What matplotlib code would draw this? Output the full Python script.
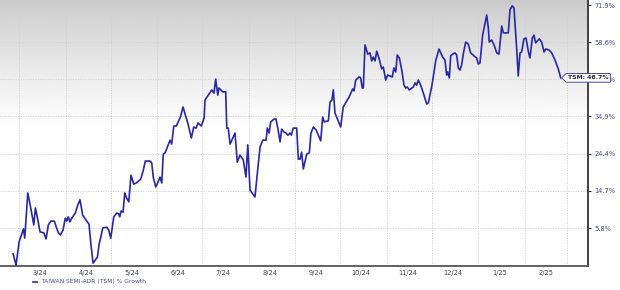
import numpy as np
import matplotlib
matplotlib.use('Agg')
from matplotlib import pyplot as plt
import matplotlib.dates as mdates
from matplotlib.path import Path
from matplotlib.lines import Line2D
from matplotlib.ticker import FixedLocator, NullLocator
from datetime import datetime

plt.rcParams['font.family'] = 'DejaVu Sans'

# days since 2024-02-26 and % growth of TSM since that day
days = [0, 2, 4.0, 6.9, 7.8, 9.8, 11.8, 13.8, 14.9, 16.5, 18.0, 20.5, 22.0, 23.5, 25.1, 27.5,
        28.8, 30.2, 31.5, 33.3, 34.8, 35.8, 36.8, 37.9, 39.1, 41.5, 43.1, 44.6, 46.4, 49.1, 50.6,
        51.8, 53.3, 56.2, 57.3, 59.8, 62.4, 63.8, 65.1, 67.1, 69.1, 70.4, 71.1, 72.0, 73.3, 74.4,
        75.7, 77.1, 78.6, 80.4, 82.1, 85.1, 86.8, 88.1, 91.3, 92.4, 93.5, 95.1, 96.4, 97.9, 99.1,
        100.1, 101.3, 102.8, 104.6, 105.7, 107.1, 108.8, 111.5, 113.3, 114.8, 116.4, 118.8, 120.4,
        121.9, 123.3, 125.4, 127.3, 127.9, 130.1, 132.4, 133.9, 135.0, 136.4, 137.2, 139.7, 141.7,
        142.4, 143.4, 144.6, 147.9, 149.4, 151.2, 153.4, 155.2, 156.4, 157.9, 161.2, 162.8, 164.6,
        166.4, 168.6, 169.4, 170.6, 171.7, 173.9, 175.2, 176.4, 177.9, 179.0, 180.5, 181.9, 183.2,
        184.5, 185.4, 186.7, 189.0, 190.1, 191.2, 192.3, 193.4, 195.7, 197.4, 198.5, 200.1, 201.9,
        205.0, 206.3, 207.4, 210.1, 211.2, 212.5, 213.4, 214.5, 218.3, 220.0, 223.9, 226.3, 227.2,
        228.3, 230.7, 231.6, 232.7, 233.4, 234.5, 236.3, 237.8, 239.0, 240.0, 241.2, 242.3, 243.8,
        245.6, 246.7, 248.3, 249.6, 251.2, 252.7, 253.8, 255.0, 256.0, 257.4, 259.0, 260.5, 261.6,
        262.7, 264.0, 266.7, 267.8, 268.9, 270.0, 271.6, 273.8, 275.6, 276.7, 278.9, 280.0, 281.6,
        283.8, 286.3, 287.8, 288.9, 289.6, 290.7, 291.6, 292.9, 294.5, 295.6, 296.7, 297.8, 298.9,
        300.0, 301.6, 303.3, 304.9, 307.1, 308.9, 310.0, 311.1, 312.9, 314.0, 315.6, 316.7, 317.3,
        318.9, 320.5, 322.3, 323.8, 325.6, 326.7, 330.0, 331.1, 332.6, 333.8, 334.4, 335.5, 336.6,
        337.8, 338.9, 340.4, 341.8, 343.3, 344.4, 346.0, 347.1, 348.2, 350.6, 352.2, 353.8, 354.9,
        357.1, 358.9, 361.1, 363.3, 364.9]
growth = [0.0, -2.4, 2.6, 5.6, 3.5, 14.2, 10.5, 6.5, 10.5, 7.7, 4.9, 4.7, 3.3, 6.5, 7.4, 7.4,
          6.0, 4.7, 4.2, 5.3, 8.1, 7.4, 8.4, 7.2, 8.1, 9.3, 11.2, 12.5, 8.8, 7.4, 6.7,
          2.4, -2.0, -0.7, 2.0, 5.8, 6.0, 5.3, 3.5, 8.4, 9.3, 9.1, 8.4, 9.8, 9.5, 14.2,
          12.9, 12.0, 18.7, 16.4, 16.7, 17.7, 20.0, 22.4, 22.4, 21.9, 18.0, 15.7, 16.7, 18.2, 16.7,
          24.3, 24.6, 26.2, 28.1, 27.0, 32.1, 32.1, 34.7, 37.7, 35.3, 33.0, 28.7, 31.8,
          31.5, 33.0, 32.1, 34.4, 39.8, 41.3, 42.9, 41.9, 46.3, 41.3, 43.5, 42.3, 42.3,
          31.5, 31.5, 27.0, 30.1, 22.1, 24.0, 22.7, 18.2, 26.8, 14.9, 13.2, 19.3, 26.2,
          28.1, 28.1, 31.5, 30.1, 33.3, 34.1, 34.1, 31.5, 27.6, 31.2, 30.4, 30.1, 29.5,
          30.1, 29.5, 31.5, 31.5, 22.9, 22.9, 24.8, 20.3, 24.3, 24.6, 30.1, 31.8, 31.0,
          27.9, 34.7, 33.3, 33.6, 39.2, 39.8, 42.9, 35.9, 31.8, 37.7, 40.7, 43.2, 42.6,
          46.0, 47.0, 46.7, 43.5, 43.5, 57.6, 54.5, 54.9, 52.2, 53.5, 52.2, 55.5, 53.2,
          49.6, 50.2, 46.0, 47.6, 47.3, 47.0, 49.9, 48.6, 54.2, 53.2, 49.2, 44.4, 43.5,
          43.8, 42.9, 43.8, 45.1, 44.4, 46.0, 44.4, 41.3, 38.6, 38.9, 43.8, 47.0, 52.2,
          56.2, 53.5, 52.5, 47.6, 48.6, 46.7, 53.9, 54.5, 54.9, 54.2, 49.9, 49.2, 50.9,
          54.5, 58.6, 57.9, 54.9, 53.9, 53.2, 51.2, 51.5, 61.0, 63.9, 68.2, 63.5, 58.6,
          59.3, 57.6, 54.9, 54.5, 64.2, 61.8, 61.8, 70.1, 71.6, 70.8, 65.7, 56.9, 47.3,
          54.9, 55.2, 59.7, 60.0, 55.5, 53.2, 60.0, 61.0, 58.3, 59.7, 58.6, 55.2, 56.2,
          55.9, 54.9, 52.5, 49.6, 46.7]

ytick_vals = [5.8, 14.7, 24.4, 34.9, 46.3, 58.6, 71.9]
month_labels = ['3/24', '4/24', '5/24', '6/24', '7/24', '8/24', '9/24', '10/24',
                '11/24', '12/24', '1/25', '2/25']
series_name = 'TAIWAN SEMI-ADR (TSM) % Growth'
last_label = 'TSM: 46.7%'

line_col = '#2727a8'
t0 = mdates.date2num(datetime(2024, 2, 26))
x = t0 + np.array(days)
y = 1 + np.array(growth) / 100.0

fig = plt.figure(figsize=(6.2, 2.9), dpi=100)
ax = fig.add_axes([0.0, 24/290, 588/620, 266/290])

# grey-to-white background gradient
rows = np.linspace(0, 1, 266)
shade = 0.79 + 0.21 * np.clip(rows / 0.48, 0, 1) ** 0.85
grad = np.repeat(shade[:, None], 2, axis=1)
ax.imshow(grad, cmap='gray', vmin=0, vmax=1, extent=[0, 1, 0, 1], transform=ax.transAxes,
          aspect='auto', zorder=0, interpolation='bilinear')

ax.plot(x, y, color=line_col, lw=1.2, zorder=3, solid_joinstyle='round')

ax.set_yscale('log')
ax.set_ylim(0.974, 1.738)
ax.set_xlim(t0 - 8.7, t0 + 383.1)

ax.yaxis.set_major_locator(FixedLocator([1 + v/100 for v in ytick_vals]))
ax.yaxis.set_minor_locator(NullLocator())
ax.set_yticklabels(['%.1f%%' % v for v in ytick_vals])
ax.yaxis.tick_right()
ax.tick_params(axis='y', which='major', direction='out', length=2.5, width=0.8, color='#333333',
               labelsize=4.8, labelcolor='#4c4ca6', pad=2)

month_starts = [mdates.date2num(datetime(2024 + (m // 12), m % 12 + 1, 1)) for m in range(2, 15)]
mid_months = [mdates.date2num(datetime(2024 + (m // 12), m % 12 + 1, 15)) for m in range(2, 14)]
ax.xaxis.set_major_locator(FixedLocator(month_starts))
ax.xaxis.set_minor_locator(FixedLocator(mid_months))
ax.xaxis.set_major_formatter(plt.NullFormatter())
ax.xaxis.set_minor_formatter(plt.FixedFormatter(month_labels))
ax.tick_params(axis='x', which='both', length=0, labelsize=4.8, labelcolor='#444444', pad=3)

ax.grid(True, which='major', color='#cfcfcf', lw=0.6, ls=(0, (1.5, 1.5)), zorder=1)

for s in ['left', 'top']:
    ax.spines[s].set_visible(False)
ax.spines['right'].set_color('#333333')
ax.spines['right'].set_linewidth(1.3)
ax.spines['bottom'].set_color('#555555')
ax.spines['bottom'].set_linewidth(1.3)


def tag_box(x0, y0, width, height, mutation_size):
    pad = 0.3 * mutation_size
    x0, y0 = x0 - pad, y0 - pad
    w, h = width + 2 * pad, height + 2 * pad
    tip = h * 0.5
    verts = [(x0, y0), (x0 + w, y0), (x0 + w, y0 + h), (x0, y0 + h), (x0 - tip, y0 + h / 2), (x0, y0)]
    return Path(verts, closed=True)


ax.annotate(last_label, xy=(x[-1], y[-1]), xytext=(5.2, 0), textcoords='offset points',
            ha='left', va='center', fontsize=4.4, color='#222255', fontweight='bold',
            bbox=dict(boxstyle=tag_box, fc='#fffff2', ec='#4a4aa8', lw=0.7),
            annotation_clip=False, zorder=6)

# legend below the chart
fig.add_artist(Line2D([33/620, 37/620], [1 - 282/290] * 2, color=line_col, lw=1.2))
fig.text(41/620, 1 - 282/290, series_name, fontsize=4.3, color='#4c4c9c', va='center', ha='left')

plt.savefig('out.png', dpi=100)
